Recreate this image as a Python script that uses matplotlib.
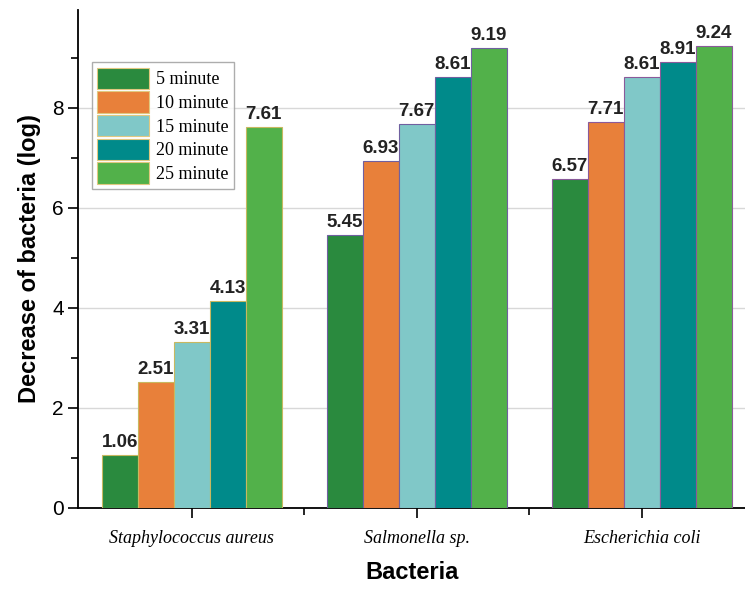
import matplotlib.pyplot as plt
import numpy as np

bacteria = ['Staphylococcus aureus', 'Salmonella sp.', 'Escherichia coli']
times = ['5 minute', '10 minute', '15 minute', '20 minute', '25 minute']
values = {
    '5 minute': [1.06, 5.45, 6.57],
    '10 minute': [2.51, 6.93, 7.71],
    '15 minute': [3.31, 7.67, 8.61],
    '20 minute': [4.13, 8.61, 8.91],
    '25 minute': [7.61, 9.19, 9.24],
}
colors = ['#2a8a3e', '#e8803a', '#80c8c8', '#008a8a', '#52b14a']
edge_colors = ['#c8b860', '#7060a0', '#8a5a9a']

fig = plt.figure(figsize=(7.45, 5.9), dpi=100)
ax = fig.add_axes([0.105, 0.139, 0.895, 0.844])

x = np.arange(len(bacteria))
width = 0.16
for i, t in enumerate(times):
    pos = x + (i - 2) * width
    bars = ax.bar(pos, values[t], width, color=colors[i], label=t, zorder=3,
                  linewidth=0.8)
    for b, ec in zip(bars, edge_colors):
        b.set_edgecolor(ec)
    for xp, v in zip(pos, values[t]):
        ax.text(xp, v + 0.08, f'{v:.2f}', ha='center', va='bottom',
                fontsize=13.5, fontweight='bold', color='#222222',
                family='Liberation Sans', zorder=4)

ax.set_xlim(-0.505, 2.46)
ax.set_ylim(0, 9.95)
ax.set_yticks([0, 2, 4, 6, 8])
ax.set_yticks([1, 3, 5, 7, 9], minor=True)
ax.set_xticks(x)
ax.set_xticks([0.5, 1.5], minor=True)
ax.set_xticklabels(bacteria, fontstyle='italic', family='Liberation Serif',
                   fontsize=13)
for lbl in ax.get_yticklabels():
    lbl.set_family('Liberation Sans')
    lbl.set_fontsize(15)
ax.tick_params(axis='both', which='major', direction='out', length=7, width=1.2)
ax.tick_params(axis='both', which='minor', direction='out', length=5, width=1.2)
ax.tick_params(axis='x', which='major', pad=9)
ax.yaxis.grid(True, which='major', color='#d8d8d8', linewidth=1.0, zorder=0)
ax.spines['top'].set_visible(False)
ax.spines['right'].set_visible(False)
ax.spines['left'].set_linewidth(1.3)
ax.spines['bottom'].set_linewidth(1.3)

ax.set_ylabel('Decrease of bacteria (log)', fontsize=17, fontweight='bold',
              family='Liberation Sans', labelpad=8)
ax.set_xlabel('Bacteria', fontsize=17, fontweight='bold',
              family='Liberation Sans', labelpad=10)

leg = ax.legend(loc='upper left', bbox_to_anchor=(0.02, 0.895),
                prop={'family': 'Liberation Serif', 'size': 13},
                frameon=True, fancybox=False, edgecolor='#999999',
                handlelength=2.9, handleheight=1.45, labelspacing=0.12,
                handletextpad=0.35, borderpad=0.3, borderaxespad=0)
leg.get_frame().set_linewidth(1.0)
for h in leg.legend_handles:
    h.set_edgecolor('#e0c880')

fig.savefig('out.png', dpi=100)
